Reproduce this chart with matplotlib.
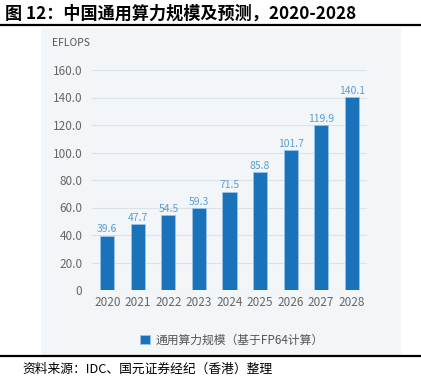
import matplotlib.pyplot as plt
from matplotlib.patches import Rectangle
from matplotlib.lines import Line2D

plt.rcParams['font.family'] = ['Noto Sans CJK SC', 'DejaVu Sans']

years = ["2020", "2021", "2022", "2023", "2024", "2025", "2026", "2027", "2028"]
values = [39.6, 47.7, 54.5, 59.3, 71.5, 85.8, 101.7, 119.9, 140.1]
yticks = [0, 20, 40, 60, 80, 100, 120, 140, 160]
ytick_labels = ["0", "20.0", "40.0", "60.0", "80.0", "100.0", "120.0", "140.0", "160.0"]

W, H = 421, 379
fig = plt.figure(figsize=(W / 100, H / 100), dpi=100)

# panel behind the chart
fig.patches.append(Rectangle((41 / W, 1 - 355 / H), 360 / W, 327 / H,
                             transform=fig.transFigure, facecolor="#f2f6f9",
                             edgecolor="none", zorder=-5))
# black rules
fig.lines.append(Line2D([0, 1], [1 - 25 / H, 1 - 25 / H], transform=fig.transFigure,
                        color="black", lw=1.6))
fig.lines.append(Line2D([0, 1], [1 - 356 / H, 1 - 356 / H], transform=fig.transFigure,
                        color="black", lw=1.6))

fig.text(5 / W, 1 - 14 / H, "图 12：中国通用算力规模及预测，2020-2028",
         fontsize=12.3, fontweight="bold", va="center", ha="left")
fig.text(22 / W, 1 - 369 / H, "资料来源：IDC、国元证券经纪（香港）整理",
         fontsize=9.2, va="center", ha="left", style="italic")
fig.text(52 / W, 1 - 43 / H, "EFLOPS", fontsize=7.5, color="#555555",
         va="center", ha="left")

ax = fig.add_axes([92 / W, 1 - 290 / H, 275 / W, 220 / H])
ax.set_facecolor("none")
x = range(len(years))
bars = ax.bar(x, values, width=0.46, color="#1a72ba", edgecolor="#9cc3e6",
              linewidth=0.6, label="通用算力规模（基于FP64计算）", zorder=3)
ax.bar_label(bars, labels=[f"{v:.1f}" for v in values], padding=1,
             fontsize=7.5, color="#5b9bd5")

ax.set_xlim(-0.5, len(years) - 0.5)
ax.set_ylim(0, 160)
ax.set_yticks(yticks)
ax.set_yticklabels(ytick_labels)
ax.set_xticks(list(x))
ax.set_xticklabels(years)
ax.tick_params(axis="both", length=0, labelsize=8.5, colors="#666666")
ax.tick_params(axis="y", pad=7)
ax.tick_params(axis="x", pad=4)
ax.grid(axis="y", color="#dde2e7", lw=0.8, zorder=0)
for s in ax.spines.values():
    s.set_visible(False)

fig.legend(loc="center", bbox_to_anchor=(232 / W, 1 - 340 / H), frameon=False,
           fontsize=8.5, handlelength=0.8, handleheight=0.8, handletextpad=0.5,
           labelcolor="#555555")

fig.savefig("out.png", dpi=100)
